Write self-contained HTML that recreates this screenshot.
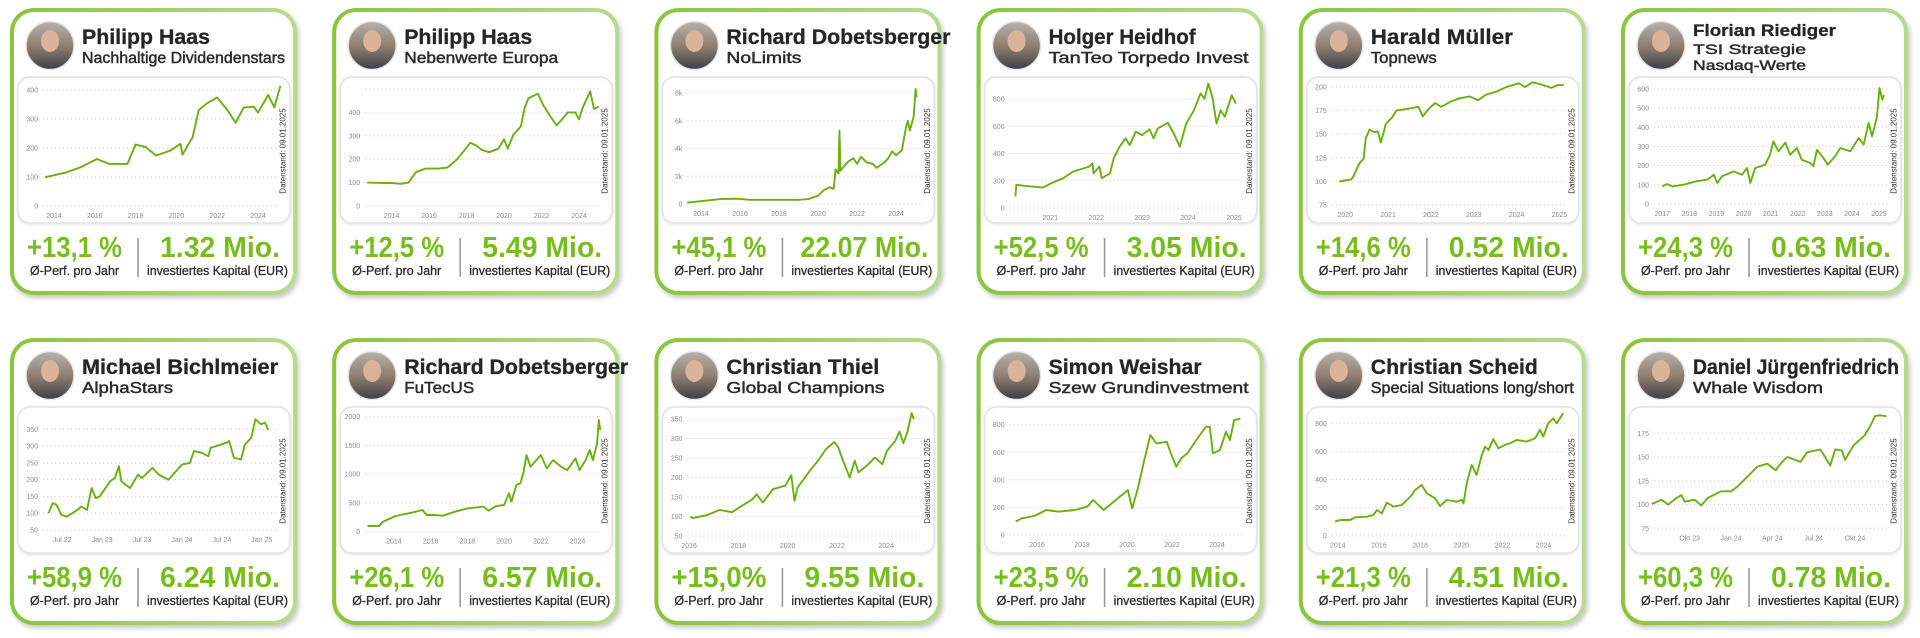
<!DOCTYPE html>
<html><head><meta charset="utf-8">
<style>
html,body{margin:0;padding:0;background:#fff;width:1920px;height:638px;overflow:hidden;}
svg{display:block;font-family:"Liberation Sans",sans-serif;}
</style></head>
<body>
<svg id="root" width="1920" height="638" viewBox="0 0 1920 638">
<defs>
<linearGradient id="bord" x1="0" y1="0" x2="1" y2="0"><stop offset="0" stop-color="#8cc43c"/><stop offset="1" stop-color="#b9da8e"/></linearGradient>
<linearGradient id="av" x1="0" y1="0" x2="0" y2="1"><stop offset="0" stop-color="#b8b3ad"/><stop offset="0.55" stop-color="#8a7a6c"/><stop offset="1" stop-color="#3a3f4a"/></linearGradient>
<filter id="sh" x="-10%" y="-10%" width="130%" height="130%"><feDropShadow dx="2" dy="3" stdDeviation="2.5" flood-color="#000" flood-opacity="0.22"/></filter>
<filter id="sh2" x="-10%" y="-10%" width="130%" height="130%"><feDropShadow dx="0" dy="1" stdDeviation="1.5" flood-color="#000" flood-opacity="0.12"/></filter>
</defs>
</svg>
<script>
// ---------- chart data ----------
const c1X=[2013.56,2014.6,2015.3,2016.1,2016.7,2017.6,2018.0,2018.5,2019.0,2019.7,2020.2,2020.3,2020.8,2021.1,2021.5,2022.0,2022.5,2022.9,2023.3,2023.8,2024.0,2024.5,2024.8,2025.1];
const c1Y=[99,116,133,162,145,145,212,203,174,191,214,177,238,331,354,374,331,287,340,342,322,383,340,414];
const c1Ticks=[0,100,200,300,400]; const c1TickLabels=['0','100','200','300','400'];
const c1XTicks=[2014,2016,2018,2020,2022,2024]; const c1XLabels=['2014','2016','2018','2020','2022','2024'];

const c2X=[2012.7,2014.0,2014.5,2014.9,2015.3,2015.8,2016.5,2017.0,2017.5,2018.0,2018.2,2018.5,2018.8,2019.2,2019.7,2020.0,2020.2,2020.5,2020.9,2021.1,2021.3,2021.8,2022.1,2022.5,2022.8,2023.1,2023.4,2023.8,2024.0,2024.2,2024.6,2024.8,2025.05];
const c2Y=[100,98,95,100,145,160,160,165,200,250,270,260,240,230,245,285,245,305,340,420,460,480,430,380,345,370,400,400,370,420,490,415,425];
const c2Ticks=[0,100,200,300,400,500]; const c2TickLabels=['0','100','200','300','400',''];
const c2XTicks=[2014,2016,2018,2020,2022,2024]; const c2XLabels=['2014','2016','2018','2020','2022','2024'];

const c3X=[2013.3,2014,2015,2015.8,2016.5,2018,2019,2019.5,2020,2020.3,2020.6,2020.8,2020.9,2021.05,2021.1,2021.15,2021.5,2021.8,2022.0,2022.2,2022.5,2022.8,2023.0,2023.4,2023.6,2023.8,2024.0,2024.3,2024.5,2024.6,2024.7,2024.9,2025.0,2025.05];
const c3Y=[0.1,0.2,0.35,0.38,0.3,0.3,0.3,0.35,0.6,1.0,1.2,1.1,2.5,2.2,5.3,2.4,3.0,3.3,2.9,3.4,3.0,2.9,2.6,3.0,3.3,3.8,3.5,3.9,5.5,6.0,5.3,6.3,8.3,7.7];
const c3Ticks=[0,2,4,6,8]; const c3TickLabels=['0','2k','4k','6k','8k'];
const c3XTicks=[2014,2016,2018,2020,2022,2024]; const c3XLabels=['2014','2016','2018','2020','2022','2024'];

const c4X=[2020.24,2020.26,2020.44,2020.84,2021.02,2021.28,2021.5,2021.85,2021.92,2021.94,2022.07,2022.12,2022.3,2022.38,2022.51,2022.64,2022.73,2022.86,2023.0,2023.16,2023.25,2023.34,2023.56,2023.69,2023.82,2023.96,2024.13,2024.27,2024.36,2024.44,2024.53,2024.62,2024.71,2024.8,2024.88,2024.95,2025.04];
const c4Y=[85,170,163,150,182,219,268,304,328,255,304,219,255,365,450,511,462,560,535,577,511,584,625,547,450,620,718,840,803,912,815,620,718,669,754,827,766];
const c4Ticks=[0,200,400,600,800]; const c4TickLabels=['0','200','400','600','800'];
const c4XTicks=[2021,2022,2023,2024,2025]; const c4XLabels=['2021','2022','2023','2024','2025'];

const c5X=[2019.86,2020.0,2020.14,2020.19,2020.33,2020.43,2020.48,2020.57,2020.67,2020.76,2020.83,2020.95,2021.1,2021.19,2021.48,2021.71,2021.81,2021.95,2022.1,2022.24,2022.48,2022.67,2022.9,2023.1,2023.29,2023.52,2023.76,2024.05,2024.19,2024.38,2024.62,2024.81,2024.95,2025.1];
const c5Y=[100,101,102,105,119,124,146,155,152,153,141,161,168,175,177,179,169,177,183,179,185,188,190,186,192,195,200,204,200,205,202,199,202,202];
const c5Ticks=[75,100,125,150,175,200]; const c5TickLabels=['75','100','125','150','175','200'];
const c5XTicks=[2020,2021,2022,2023,2024,2025]; const c5XLabels=['2020','2021','2022','2023','2024','2025'];

const c6X=[2017,2017.18,2017.37,2017.8,2018.23,2018.66,2018.9,2019.03,2019.2,2019.63,2019.94,2020.13,2020.25,2020.43,2020.8,2020.98,2021.1,2021.29,2021.54,2021.72,2021.97,2022.15,2022.46,2022.58,2022.71,2022.95,2023.11,2023.38,2023.57,2023.94,2024.25,2024.43,2024.62,2024.74,2024.92,2025.02,2025.12,2025.18];
const c6Y=[92,104,92,101,118,127,153,110,144,170,153,188,110,188,205,257,327,275,320,257,292,231,214,197,283,240,205,249,292,275,344,310,423,353,449,605,544,570];
const c6Ticks=[0,100,200,300,400,500,600]; const c6TickLabels=['0','100','200','300','400','500','600'];
const c6XTicks=[2017,2018,2019,2020,2021,2022,2023,2024,2025]; const c6XLabels=['2017','2018','2019','2020','2021','2022','2023','2024','2025'];

const c7X=[2022.33,2022.38,2022.43,2022.49,2022.56,2022.69,2022.74,2022.81,2022.87,2022.92,2022.97,2023.1,2023.16,2023.21,2023.24,2023.35,2023.45,2023.5,2023.63,2023.71,2023.83,2024.0,2024.1,2024.15,2024.25,2024.33,2024.36,2024.56,2024.59,2024.65,2024.74,2024.79,2024.87,2024.92,2024.99,2025.04,2025.08];
const c7Y=[100,130,125,95,90,110,120,110,175,145,150,195,205,240,195,175,215,205,235,215,200,245,250,285,280,270,295,310,315,265,260,305,325,380,365,370,348];
const c7Ticks=[50,100,150,200,250,300,350]; const c7TickLabels=['50','100','150','200','250','300','350'];
const c7XTicks=[2022.5,2023,2023.5,2024,2024.5,2025]; const c7XLabels=['Jul 22','Jan 23','Jul 23','Jan 24','Jul 24','Jan 25'];

const c8X=[2012.56,2013.2,2013.4,2014,2014.33,2014.78,2015.56,2015.78,2016.22,2016.67,2017.33,2018,2018.89,2019.16,2019.56,2020,2020.27,2020.4,2020.67,2020.89,2021.07,2021.22,2021.44,2022,2022.33,2022.67,2023.1,2023.44,2023.89,2024.11,2024.44,2024.67,2024.84,2025.07,2025.16,2025.24];
const c8Y=[99,99,174,261,290,319,377,290,290,278,348,406,435,365,446,464,667,522,812,841,1043,1333,1130,1333,1101,1246,1130,1072,1275,1072,1246,1420,1246,1536,1942,1768];
const c8Ticks=[0,500,1000,1500,2000]; const c8TickLabels=['0','500','1000','1500','2000'];
const c8XTicks=[2014,2016,2018,2020,2022,2024]; const c8XLabels=['2014','2016','2018','2020','2022','2024'];

const c9X=[2016.05,2016.16,2016.75,2017.24,2017.74,2018.16,2018.57,2018.74,2018.99,2019.4,2019.9,2020.15,2020.28,2020.4,2020.9,2021.23,2021.56,2021.89,2022.05,2022.22,2022.52,2022.72,2022.88,2023.21,2023.54,2023.84,2024.03,2024.37,2024.54,2024.7,2024.87,2025.03,2025.12];
const c9Y=[100,96,104,117,111,128,144,157,136,170,179,206,140,174,217,243,273,291,278,248,200,243,213,230,251,234,268,294,318,288,318,365,350];
const c9Ticks=[50,100,150,200,250,300,350]; const c9TickLabels=['50','100','150','200','250','300','350'];
const c9XTicks=[2016,2018,2020,2022,2024]; const c9XLabels=['2016','2018','2020','2022','2024'];

const c10X=[2015.06,2015.33,2015.87,2016.42,2016.96,2017.69,2018.23,2018.5,2018.96,2019.5,2020.04,2020.23,2020.5,2020.77,2021.04,2021.31,2021.77,2021.95,2022.19,2022.41,2022.68,2023.13,2023.5,2023.68,2023.82,2024.13,2024.4,2024.58,2024.76,2025.04];
const c10Y=[97,121,138,181,169,181,205,254,181,254,326,193,350,543,725,664,676,592,495,556,592,700,785,785,592,616,749,688,833,845];
const c10Ticks=[0,200,400,600,800]; const c10TickLabels=['0','200','400','600','800'];
const c10XTicks=[2016,2018,2020,2022,2024]; const c10XLabels=['2016','2018','2020','2022','2024'];

const c11X=[2013.87,2014.11,2014.6,2014.84,2015.41,2015.73,2015.9,2016.14,2016.38,2016.71,2017.11,2017.6,2017.76,2018.08,2018.32,2018.73,2018.97,2019.3,2019.78,2020.03,2020.11,2020.27,2020.51,2020.75,2021,2021.16,2021.32,2021.56,2021.81,2022.13,2022.37,2022.7,2023.18,2023.59,2023.83,2023.99,2024.23,2024.47,2024.64,2024.96];
const c11Y=[100,112,112,131,135,147,183,159,235,207,218,290,325,361,302,266,211,254,242,254,230,373,503,432,574,634,610,686,622,646,658,682,670,693,753,705,800,835,800,872];
const c11Ticks=[0,200,400,600,800]; const c11TickLabels=['0','200','400','600','800'];
const c11XTicks=[2014,2016,2018,2020,2022,2024]; const c11XLabels=['2014','2016','2018','2020','2022','2024'];

const c12X=[2023.52,2023.58,2023.62,2023.67,2023.7,2023.72,2023.78,2023.82,2023.86,2023.94,2024.0,2024.04,2024.08,2024.12,2024.16,2024.22,2024.27,2024.3,2024.34,2024.42,2024.46,2024.54,2024.57,2024.6,2024.63,2024.67,2024.69,2024.74,2024.81,2024.84,2024.86,2024.87,2024.9,2024.94];
const c12Y=[100.6,105,100,107,110,103,105,99,107,114,114,119,126,133,140,143,136,143,150,145,155,158,150,141,158,157,147,162,173,182,189,193,194,193];
const c12Ticks=[75,100,125,150,175]; const c12TickLabels=['75','100','125','150','175'];
const c12XTicks=[2023.75,2024,2024.25,2024.5,2024.75]; const c12XLabels=['Okt 23','Jan 24','Apr 24','Jul 24','Okt 24'];

// ---------- card text ----------
const names=['Philipp Haas','Philipp Haas','Richard Dobetsberger','Holger Heidhof','Harald Müller','Florian Riediger','Michael Bichlmeier','Richard Dobetsberger','Christian Thiel','Simon Weishar','Christian Scheid','Daniel Jürgenfriedrich'];
const subtitles=[['Nachhaltige Dividendenstars'],['Nebenwerte Europa'],['NoLimits'],['TanTeo Torpedo Invest'],['Topnews'],['TSI Strategie','Nasdaq-Werte'],['AlphaStars'],['FuTecUS'],['Global Champions'],['Szew Grundinvestment'],['Special Situations long/short'],['Whale Wisdom']];
const perfs=['+13,1 %','+12,5 %','+45,1 %','+52,5 %','+14,6 %','+24,3 %','+58,9 %','+26,1 %','+15,0%','+23,5 %','+21,3 %','+60,3 %'];
const capitals=['1.32 Mio.','5.49 Mio.','22.07 Mio.','3.05 Mio.','0.52 Mio.','0.63 Mio.','6.24 Mio.','6.57 Mio.','9.55 Mio.','2.10 Mio.','4.51 Mio.','0.78 Mio.'];

// ---------- layout (pixels, not data) ----------
const nameW=[128,128,224,147,142,143,196,224,153,153,167,206];
const subW=[[203],[154],[75],[200],[66],[113,113],[91],[70],[158],[200],[203],[130]];
const charts=[
 {x:c1X,y:c1Y,t:c1Ticks,tl:c1TickLabels,xt:c1XTicks,xl:c1XLabels,xm:[2014,44,2024,248],ym:[198,82]},
 {x:c2X,y:c2Y,t:c2Ticks,tl:c2TickLabels,xt:c2XTicks,xl:c2XLabels,xm:[2014,59.4,2024,246.8],ym:[198,81]},
 {x:c3X,y:c3Y,t:c3Ticks,tl:c3TickLabels,xt:c3XTicks,xl:c3XLabels,xm:[2014,46.6,2024,241.7],ym:[196,85]},
 {x:c4X,y:c4Y,t:c4Ticks,tl:c4TickLabels,xt:c4XTicks,xl:c4XLabels,xm:[2021,73.7,2025,257.4],ym:[200,91]},
 {x:c5X,y:c5Y,t:c5Ticks,tl:c5TickLabels,xt:c5XTicks,xl:c5XLabels,xm:[2020,46.4,2025,260.7],ym:[197,79]},
 {x:c6X,y:c6Y,t:c6Ticks,tl:c6TickLabels,xt:c6XTicks,xl:c6XLabels,xm:[2017,41.3,2025,258],ym:[196,81]},
 {x:c7X,y:c7Y,t:c7Ticks,tl:c7TickLabels,xt:c7XTicks,xl:c7XLabels,xm:[2022.5,52.2,2025,251.8],ym:[192,91.3]},
 {x:c8X,y:c8Y,t:c8Ticks,tl:c8TickLabels,xt:c8XTicks,xl:c8XLabels,xm:[2014,61.7,2024,245.3],ym:[193.7,78.7]},
 {x:c9X,y:c9Y,t:c9Ticks,tl:c9TickLabels,xt:c9XTicks,xl:c9XLabels,xm:[2016,34.7,2024,231.8],ym:[198,81]},
 {x:c10X,y:c10Y,t:c10Ticks,tl:c10TickLabels,xt:c10XTicks,xl:c10XLabels,xm:[2016,60.4,2024,240.4],ym:[197,86.7]},
 {x:c11X,y:c11Y,t:c11Ticks,tl:c11TickLabels,xt:c11XTicks,xl:c11XLabels,xm:[2014,39,2024,244.7],ym:[197.7,85.3]},
 {x:c12X,y:c12Y,t:c12Ticks,tl:c12TickLabels,xt:c12XTicks,xl:c12XLabels,xm:[2023.75,68.7,2024.75,234],ym:[190.3,95.3]}
];

const NS='http://www.w3.org/2000/svg';
const root=document.getElementById('root');
function mk(tag,attrs,parent,text){const e=document.createElementNS(NS,tag);for(const k in attrs)e.setAttribute(k,attrs[k]);if(text!==undefined)e.textContent=text;parent.appendChild(e);return e;}

for(let i=0;i<12;i++){
  const col=i%6,row=Math.floor(i/6);
  const L=10+col*322.2, T=row?338:8;
  const g=mk('g',{transform:`translate(${L},${T})`},root);
  
  
  const card=mk('rect',{x:2,y:2,width:283,height:283,rx:22,fill:'#fff',stroke:'url(#bord)','stroke-width':4,filter:'url(#sh)'},g);
  
  
  const av=mk('circle',{cx:40,cy:37.5,r:24,fill:'url(#av)',stroke:'#e6e6e6','stroke-width':1.5},g);
  
  
  const face=mk('ellipse',{cx:40,cy:33,rx:9,ry:11,fill:'#d9b49a'},g);
  
  
  const subs=subtitles[i];
  const three=subs.length>1;
  const nm=mk('text',{x:72,y:three?28:36,'font-size':three?17:21,'font-weight':'bold',fill:'#262626',stroke:'#262626','stroke-width':0.3,textLength:nameW[i],lengthAdjust:'spacingAndGlyphs'},g,names[i]);
  
  
  subs.forEach((s,k)=>{
    const st=mk('text',{x:72,y:three?(46+k*16):55,'font-size':three?14:15.5,fill:'#2b2b2b',stroke:'#2b2b2b','stroke-width':0.45,textLength:subW[i][k],lengthAdjust:'spacingAndGlyphs'},g,s);
    
    
  });
  const box=mk('rect',{x:8,y:69,width:272,height:146,rx:12,fill:'#fff',stroke:'#e2e2e2','stroke-width':1.5,filter:'url(#sh2)'},g);
  
  
  const c=charts[i];
  const y0=c.t[0],y1=c.t[c.t.length-1];
  const ys=v=>c.ym[0]+(v-y0)/(y1-y0)*(c.ym[1]-c.ym[0]);
  const xs=v=>c.xm[1]+(v-c.xm[0])/(c.xm[2]-c.xm[0])*(c.xm[3]-c.xm[1]);
  c.t.forEach((tv,k)=>{
    const gl=mk('line',{x1:33,x2:268,y1:ys(tv),y2:ys(tv),stroke:'#c9c9c9','stroke-width':1,'stroke-dasharray':'1 3'},g);
    
    
    const lb=mk('text',{x:28,y:ys(tv)+2.5,'font-size':7,fill:'#8a8a8a','text-anchor':'end'},g,c.tl[k]);
    
    
  });
  c.xt.forEach((xv,k)=>{
    const lb=mk('text',{x:xs(xv),y:c.ym[0]+12,'font-size':7,fill:'#8a8a8a','text-anchor':'middle'},g,c.xl[k]);
    
    
  });
  let d='';
  c.x.forEach((xv,k)=>{d+=(k?'L':'M')+xs(xv).toFixed(1)+' '+ys(c.y[k]).toFixed(1);});
  const ln=mk('path',{d:d,fill:'none',stroke:'#6aae12','stroke-width':1.9,'stroke-linejoin':'round'},g);
  
  
  const ds=mk('text',{x:0,y:0,'font-size':8,fill:'#333','text-anchor':'middle',transform:`translate(275.5,143) rotate(-90)`},g,'Datenstand: 09.01.2025');
  
  
  const pf=mk('text',{x:64.5,y:249,'font-size':29,'font-weight':'bold',fill:'#78bd1e','text-anchor':'middle',textLength:95,lengthAdjust:'spacingAndGlyphs'},g,perfs[i]);
  
  
  const pl=mk('text',{x:64.5,y:267,'font-size':13,fill:'#2b2b2b',stroke:'#2b2b2b','stroke-width':0.3,'text-anchor':'middle',textLength:89,lengthAdjust:'spacingAndGlyphs'},g,'Ø-Perf. pro Jahr');
  
  
  const dv=mk('line',{x1:128,x2:128,y1:230,y2:269,stroke:'#9a9a9a','stroke-width':1.6},g);
  
  
  const cp=mk('text',{x:210,y:249,'font-size':29,'font-weight':'bold',fill:'#78bd1e','text-anchor':'middle',textLength:capitals[i].length>9?128:120,lengthAdjust:'spacingAndGlyphs'},g,capitals[i]);
  
  
  const cl=mk('text',{x:207.5,y:267,'font-size':13,fill:'#2b2b2b',stroke:'#2b2b2b','stroke-width':0.3,'text-anchor':'middle',textLength:141,lengthAdjust:'spacingAndGlyphs'},g,'investiertes Kapital (EUR)');
  
  
}
</script>
</body></html>
